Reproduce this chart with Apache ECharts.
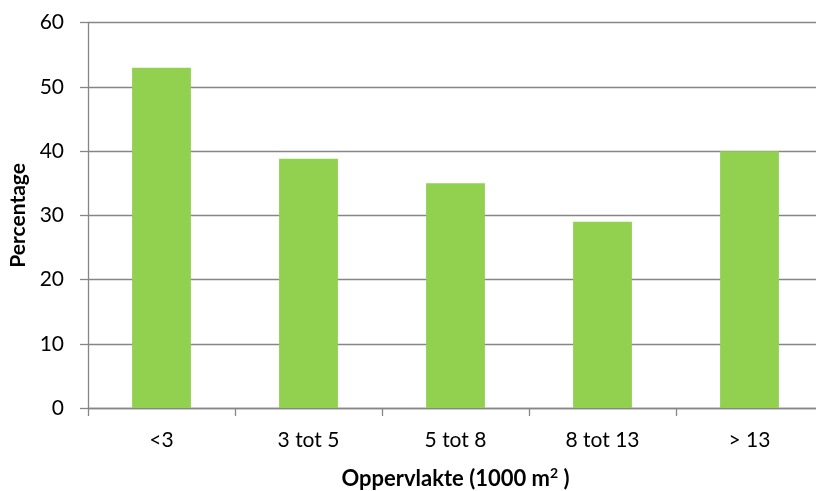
<!DOCTYPE html>
<html><head><meta charset="utf-8">
<script src="https://cdn.jsdelivr.net/npm/echarts@6/dist/echarts.min.js"></script>
<style>html,body{margin:0;padding:0;background:#fff}#c{width:816px;height:491px}</style>
</head><body><div id="c"></div>
<script>
const categories = ['<3', '3 tot 5', '5 tot 8', '8 tot 13', '> 13'];
const percentages = [53, 38.8, 35, 29, 40];
const yTicks = [0, 10, 20, 30, 40, 50, 60];

const font = 'Lato, "Open Sans", sans-serif';
const chart = echarts.init(document.getElementById('c'));
chart.setOption({
  animation: false,
  grid: { left: 88, right: -7, top: 22.7, bottom: 83, containLabel: false, outerBoundsMode: 'none' },
  xAxis: {
    type: 'category',
    data: categories,
    axisLine: { lineStyle: { color: '#868686', width: 1.3 } },
    axisTick: { show: true, length: 8, alignWithLabel: false, lineStyle: { color: '#868686', width: 1.3 } },
    axisLabel: { color: '#000', fontSize: 21, fontFamily: font, margin: 22 },
    name: '{t|Oppervlakte (1000 m}{sup|2}{t| )}',
    nameLocation: 'middle',
    nameGap: 58,
    nameTextStyle: {
      fontSize: 22, fontWeight: 'bold', fontFamily: font, color: '#000',
      rich: {
        t: { fontSize: 22, fontWeight: 'bold', fontFamily: font, color: '#000', lineHeight: 26 },
        sup: { fontSize: 14, fontWeight: 'bold', fontFamily: font, color: '#000', lineHeight: 26, verticalAlign: 'top' }
      }
    }
  },
  yAxis: {
    type: 'value',
    min: 0, max: 60, interval: 10,
    axisLine: { show: true, lineStyle: { color: '#868686', width: 1.3 } },
    axisTick: { show: true, length: 8, lineStyle: { color: '#868686', width: 1.3 } },
    axisLabel: { color: '#000', fontSize: 21, fontFamily: font, margin: 24,
      formatter: v => yTicks.includes(v) ? String(v) : '' },
    splitLine: { show: true, lineStyle: { color: '#868686', width: 1.3 } },
    name: 'Percentage',
    nameLocation: 'middle',
    nameGap: 58,
    nameRotate: 90,
    nameTextStyle: { fontSize: 21, fontWeight: 'bold', fontFamily: font, color: '#000' }
  },
  series: [{
    type: 'bar',
    data: percentages,
    barCategoryGap: '60%',
    itemStyle: { color: '#92d050' }
  }]
});
</script></body></html>
